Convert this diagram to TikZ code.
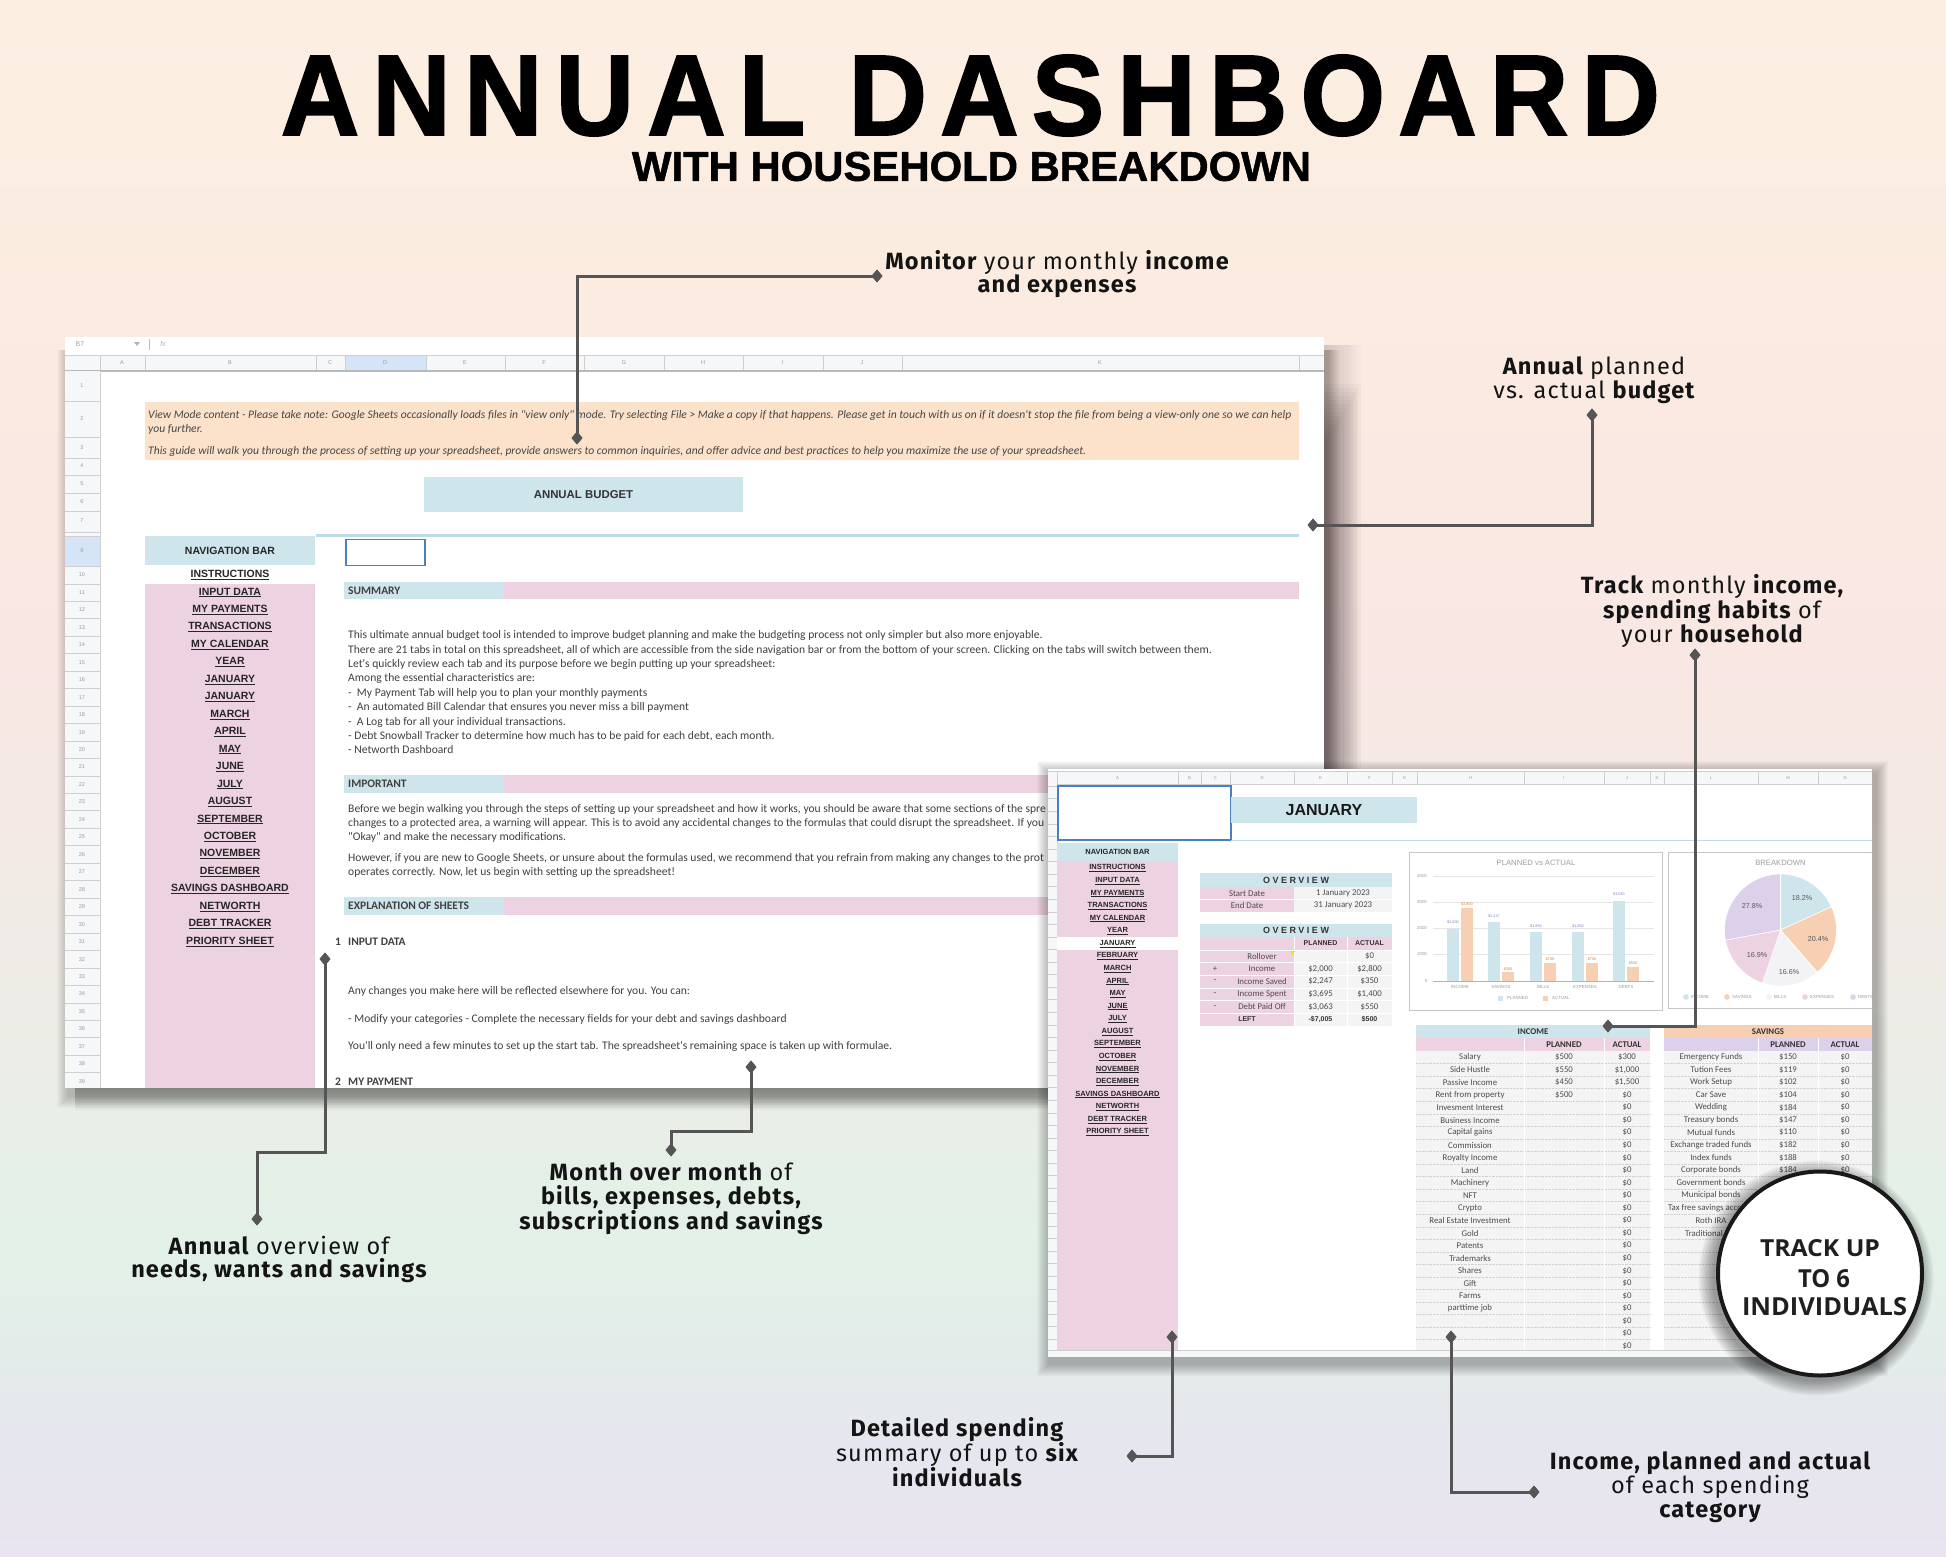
\documentclass[tikz,border=0pt]{standalone}
\usepackage{fontspec}
\usepackage{graphicx}
\usetikzlibrary{shapes.geometric}
\setmainfont{Fira Sans}
\newfontfamily\titlefont[LetterSpace=12,FakeBold=1.6]{Liberation Sans}
\newfontfamily\subfont[FakeBold=1.2]{Liberation Sans}
\newfontfamily\callfont[LetterSpace=5]{Fira Sans}
\newfontfamily\calfont{Carlito}
\newfontfamily\ari{Liberation Sans}
\newfontfamily\arisp[LetterSpace=28]{Liberation Sans}
\newfontfamily\circfont{Open Sans}

\definecolor{bg1}{HTML}{FCEFE2}
\definecolor{bg2}{HTML}{FBEBE0}
\definecolor{bg3}{HTML}{F9E7E4}
\definecolor{bg4}{HTML}{EEECE6}
\definecolor{bg5}{HTML}{E2F1E7}
\definecolor{bg6}{HTML}{E6E6EE}
\definecolor{bg7}{HTML}{E9E4EF}
\definecolor{cgray}{HTML}{555555}
\definecolor{lblue}{HTML}{CFE5EC}
\definecolor{lineblue}{HTML}{BCDCE8}
\definecolor{lpink}{HTML}{EDD2E1}
\definecolor{lpeach}{HTML}{FCE2CB}
\definecolor{speach}{HTML}{F7D0B3}
\definecolor{llav}{HTML}{DDD0EA}
\definecolor{hdrgray}{HTML}{F6F7F8}
\definecolor{gridg}{HTML}{CFCFCF}
\definecolor{selblue}{HTML}{4A7FC1}
\definecolor{hilite}{HTML}{D6E4F7}
\definecolor{txt}{HTML}{404040}
\definecolor{cellg}{HTML}{F4F4F4}
\definecolor{pieW}{HTML}{F3F3F5}
\definecolor{shad}{HTML}{3A2A2E}

\tikzset{
  callout/.style={font=\callfont\fontsize{23.5}{23.5}\selectfont, align=center, text=black!92, inner sep=0pt},
  dia/.style={diamond, fill=cgray, minimum width=11pt, minimum height=13pt, inner sep=0pt},
  conn/.style={draw=cgray, line width=3pt},
  rowlab/.style={font=\ari\fontsize{5.5}{6}\selectfont, text=gray!80, inner sep=0pt},
  colhdr/.style={font=\ari\fontsize{5.5}{6}\selectfont, text=gray!80, inner sep=0pt},
  navL/.style={font=\ari\bfseries\fontsize{10.5}{11}\selectfont, text=black!85, inner sep=0pt},
  navR/.style={font=\ari\bfseries\fontsize{7.5}{8}\selectfont, text=black!85, inner sep=0pt},
  bodyL/.style={font=\calfont\fontsize{11.6}{12}\selectfont, text=txt, anchor=west, inner sep=0pt},
  bannert/.style={font=\calfont\itshape\fontsize{11.6}{12}\selectfont, text=black!72, anchor=west, inner sep=0pt},
  secL/.style={font=\calfont\bfseries\fontsize{11.5}{12}\selectfont, text=black!75, anchor=west, inner sep=0pt},
  cellt/.style={font=\calfont\fontsize{8.8}{9}\selectfont, text=black!70, inner sep=0pt},
  cellb/.style={font=\calfont\bfseries\fontsize{8.8}{9}\selectfont, text=black!80, inner sep=0pt},
  ovt/.style={font=\calfont\fontsize{8.8}{9}\selectfont, text=black!70, inner sep=0pt},
  ovb/.style={font=\ari\bfseries\fontsize{7}{8}\selectfont, text=black!80, inner sep=0pt},
  ovh/.style={font=\arisp\bfseries\fontsize{9}{9}\selectfont, text=black!80, inner sep=0pt},
  axl/.style={font=\ari\fontsize{4.4}{5}\selectfont, text=gray!80, inner sep=0pt},
  valb/.style={font=\ari\fontsize{3.8}{4}\selectfont, text=lblue!60!blue!50!gray, inner sep=0pt},
  vala/.style={font=\ari\fontsize{3.8}{4}\selectfont, text=orange!50!brown, inner sep=0pt},
  charttitle/.style={font=\ari\fontsize{7.7}{8}\selectfont, text=gray!75, inner sep=0pt},
  piel/.style={font=\ari\fontsize{7.2}{8}\selectfont, text=black!65, inner sep=0pt},
}

\begin{document}
\begin{tikzpicture}[x=1pt,y=-1pt]
\useasboundingbox (0,0) rectangle (1946,1557);
% ---------- background
\shade[top color=bg1,bottom color=bg2] (0,-1) rectangle (1946,301);
\shade[top color=bg2,bottom color=bg3] (0,300) rectangle (1946,651);
\shade[top color=bg3,bottom color=bg4] (0,650) rectangle (1946,1001);
\shade[top color=bg4,bottom color=bg5] (0,1000) rectangle (1946,1251);
\shade[top color=bg5,bottom color=bg6] (0,1250) rectangle (1946,1451);
\shade[top color=bg6,bottom color=bg7] (0,1450) rectangle (1946,1558);

% ---------- title
\node[inner sep=0pt] (title) at (970.5,95.5) {\resizebox{1379pt}{80pt}{\titlefont\bfseries ANNUAL DASHBOARD}};
\node[inner sep=0pt] (subtitle) at (971.5,166.5) {\resizebox{679pt}{29pt}{\subfont\bfseries WITH HOUSEHOLD BREAKDOWN}};

% ---------- left screenshot
\foreach \i in {1,...,12}{\fill[black,opacity=0.018] ({69-\i},350) rectangle ({1328+\i},{1096+\i});}
\foreach \i in {0,...,14}{\fill[shad,opacity=0.012] (1324,345) rectangle ({1327+\i*2.4},1094);}
\foreach \i in {0,...,14}{\fill[shad,opacity=0.03] (1324,{440-\i*4}) rectangle ({1327+\i*2.4},1094);}
\foreach \i in {0,...,8}{\fill[black,opacity=0.03] (75,1088) rectangle (1330,{1090+\i*2.5});}
\fill[white] (65,337) rectangle (1324,1088);
\begin{scope}
\clip (65,337) rectangle (1324,1088);
% toolbar
\node[font=\ari\fontsize{7}{7}\selectfont, text=gray!70] (tbB) at (80,344) {B7};
\fill[gray!60] (134,342) -- (140,342) -- (137,346) -- cycle;
\draw[gray!50] (149,339) -- (149,350);
\node[font=\ari\itshape\fontsize{7}{7}\selectfont, text=gray!60] (tbF) at (163,344) {fx};
% column header
\fill[hdrgray] (65,355) rectangle (1324,371);
\fill[hilite] (345,355) rectangle (426,371);
\foreach \x in {100,145,316,345,426,505,584,664,743,823,902,1299}{\draw[gridg,line width=0.6] (\x,355) -- (\x,371);}
\draw[gridg,line width=0.6] (65,355) -- (1324,355);
\draw[gray!55,line width=1.2] (65,371) -- (1324,371);
\foreach \a/\x in {A/122,B/230,C/330,D/385,E/465,F/544,G/624,H/703,I/783,J/862,K/1100}{\node[colhdr] at (\x,363) {\a};}
% row header
\fill[hdrgray] (65,371) rectangle (100,1088);
\fill[hilite] (65,536) rectangle (100,566);
\draw[gridg,line width=0.6] (100,371) -- (100,1088);
\foreach \y in {401,437,458,475,493,511,532,536,566.3}{\draw[gridg,line width=0.5] (65,\y) -- (100,\y);}
\foreach \k in {10,...,39}{\draw[gridg,line width=0.5] (65,{566.3+(\k-9)*17.46}) -- (100,{566.3+(\k-9)*17.46});}
\foreach \k/\y in {1/386,2/419,3/448,4/466,5/484,6/502,7/521,9/551}{\node[rowlab] at (82,\y) {\k};}
\foreach \k in {10,...,39}{\node[rowlab] at (82,{575+(\k-10)*17.46}) {\k};}
% banner
\fill[lpeach] (145,402) rectangle (1299,460);
\node[bannert] (ban1) at (148,415) {View Mode content - Please take note: Google Sheets occasionally loads files in "view only" mode. Try selecting File > Make a copy if that happens. Please get in touch with us on if it doesn't stop the file from being a view-only one so we can help};
\node[bannert] (ban2) at (148,429) {you further.};
\node[bannert] (ban3) at (148,451) {This guide will walk you through the process of setting up your spreadsheet, provide answers to common inquiries, and offer advice and best practices to help you maximize the use of your spreadsheet.};
% annual budget box
\node[fill=lblue, minimum width=319pt, minimum height=35pt, inner sep=0pt, font=\ari\bfseries\fontsize{11.4}{12}\selectfont, text=black!80] (abox) at (583.5,494.5) {ANNUAL BUDGET};
\draw[lineblue, line width=3] (316,535) -- (1299,535);
\draw[selblue, line width=1.3] (346,539.5) rectangle (425,565.5);
% navigation
\fill[lblue] (145,536) rectangle (315,565);
\node[navL] (navtitleL) at (230,551) {NAVIGATION BAR};
\fill[lpink] (145,583.8) rectangle (315,1088);
\foreach \t [count=\i from 0] in {INSTRUCTIONS,INPUT DATA,MY PAYMENTS,TRANSACTIONS,MY CALENDAR,YEAR,JANUARY,JANUARY,MARCH,APRIL,MAY,JUNE,JULY,AUGUST,SEPTEMBER,OCTOBER,NOVEMBER,DECEMBER,SAVINGS DASHBOARD,NETWORTH,DEBT TRACKER,PRIORITY SHEET}{\node[navL] at (230,{575+\i*17.46}) {\underline{\t}};}
% sections
\fill[lblue] (344,582) rectangle (504,599); \fill[lpink] (504,582) rectangle (1299,599);
\node[secL] (sumh) at (348,591) {SUMMARY};
\node[bodyL] at (348,635) {This ultimate annual budget tool is intended to improve budget planning and make the budgeting process not only simpler but also more enjoyable.};
\node[bodyL] at (348,650) {There are 21 tabs in total on this spreadsheet, all of which are accessible from the side navigation bar or from the bottom of your screen. Clicking on the tabs will switch between them.};
\node[bodyL] at (348,664) {Let's quickly review each tab and its purpose before we begin putting up your spreadsheet:};
\node[bodyL] at (348,678) {Among the essential characteristics are:};
\node[bodyL] at (348,693) {-\ \ My Payment Tab will help you to plan your monthly payments};
\node[bodyL] at (348,707) {-\ \ An automated Bill Calendar that ensures you never miss a bill payment};
\node[bodyL] at (348,722) {-\ \ A Log tab for all your individual transactions.};
\node[bodyL] at (348,736) {- Debt Snowball Tracker to determine how much has to be paid for each debt, each month.};
\node[bodyL] at (348,750) {- Networth Dashboard};
\fill[lblue] (344,775) rectangle (504,793); \fill[lpink] (504,775) rectangle (1299,793);
\node[secL] (imph) at (348,784) {IMPORTANT};
\node[bodyL] at (348,809) {Before we begin walking you through the steps of setting up your spreadsheet and how it works, you should be aware that some sections of the spre};
\node[bodyL] at (348,823) {changes to a protected area, a warning will appear. This is to avoid any accidental changes to the formulas that could disrupt the spreadsheet. If you};
\node[bodyL] at (348,837) {"Okay" and make the necessary modifications.};
\node[bodyL] at (348,858) {However, if you are new to Google Sheets, or unsure about the formulas used, we recommend that you refrain from making any changes to the prot};
\node[bodyL] at (348,872) {operates correctly. Now, let us begin with setting up the spreadsheet!};
\fill[lblue] (344,897) rectangle (504,915); \fill[lpink] (504,897) rectangle (1299,915);
\node[secL] (exph) at (348,906) {EXPLANATION OF SHEETS};
\node[secL] at (335,942) {1};
\node[secL] at (348,942) {INPUT DATA};
\node[bodyL] at (348,991) {Any changes you make here will be reflected elsewhere for you. You can:};
\node[bodyL] at (348,1019) {- Modify your categories - Complete the necessary fields for your debt and savings dashboard};
\node[bodyL] at (348,1046) {You'll only need a few minutes to set up the start tab. The spreadsheet's remaining space is taken up with formulae.};
\node[secL] at (335,1082) {2};
\node[secL] at (348,1082) {MY PAYMENT};
\end{scope}

% ---------- right screenshot
\foreach \i in {1,...,12}{\fill[black,opacity=0.022] ({1049-\i},{773-\i}) rectangle ({1876+\i},{1364+\i});}
\fill[white] (1048,769) rectangle (1872,1357);
\begin{scope}
\clip (1048,769) rectangle (1872,1357);
\fill[hdrgray] (1048,771) rectangle (1872,784);
\foreach \x in {1057,1178,1201,1230,1294,1347,1392,1417,1524,1604,1650,1664,1758,1818}{\draw[gridg,line width=0.4] (\x,771) -- (\x,784);}
\draw[gridg,line width=0.6] (1048,784) -- (1872,784);
\draw[gridg,line width=0.4] (1048,771) -- (1872,771);
\foreach \a/\x in {A/1117.5,B/1189.5,C/1215.5,D/1262,E/1320.5,F/1369.5,G/1404.5,H/1470.5,I/1564,J/1627,K/1657,L/1711,M/1788,N/1845}{\node[font=\ari\fontsize{4.2}{5}\selectfont, text=gray!80, inner sep=0pt] at (\x,778) {\a};}
\fill[hdrgray] (1048,784) rectangle (1057,1357);
\foreach \i in {0,...,45}{\draw[gridg,line width=0.4] (1048,{786+\i*12.57}) -- (1057,{786+\i*12.57});}
\draw[gridg,line width=0.5] (1057,784) -- (1057,1357);
% selected cell and title
\draw[selblue, line width=1.1] (1058,786) rectangle (1231,840);
\node[fill=lblue, minimum width=186pt, minimum height=26pt, inner sep=0pt, font=\ari\bfseries\fontsize{16}{16}\selectfont, text=black!90] (jan) at (1324,810) {JANUARY};
\draw[lineblue, line width=1.8] (1231,840.5) -- (1872,840.5);
% nav
\fill[lblue] (1057,843) rectangle (1178,861);
\node[navR] (navtitleR) at (1117.5,852) {NAVIGATION BAR};
\fill[lpink] (1057,861) rectangle (1178,1350);
\fill[white] (1057,937.4) rectangle (1178,950);
\foreach \t [count=\i from 0] in {INSTRUCTIONS,INPUT DATA,MY PAYMENTS,TRANSACTIONS,MY CALENDAR,YEAR,JANUARY,FEBRUARY,MARCH,APRIL,MAY,JUNE,JULY,AUGUST,SEPTEMBER,OCTOBER,NOVEMBER,DECEMBER,SAVINGS DASHBOARD,NETWORTH,DEBT TRACKER,PRIORITY SHEET}{\node[navR] at (1117.5,{868.3+\i*12.57}) {\underline{\t}};}
% overview 1
\fill[lblue] (1200,873) rectangle (1392,887);
\node[ovh] (ov1) at (1296,880) {OVERVIEW};
\fill[lpink] (1200,887) rectangle (1294,912);
\fill[cellg] (1294,887) rectangle (1392,912);
\draw[white,line width=0.6] (1200,899.5) -- (1392,899.5);
\node[ovt] at (1247,893.2) {Start Date};
\node[ovt] at (1343,893.2) {1 January 2023};
\node[ovt] at (1247,905.8) {End Date};
\node[ovt] at (1343,905.8) {31 January 2023};
% overview 2
\fill[lblue] (1200,924) rectangle (1392,937);
\node[ovh] (ov2) at (1296,930.5) {OVERVIEW};
\fill[lpink] (1200,937) rectangle (1392,950);
\fill[lpink] (1200,950) rectangle (1294,1025.6);
\fill[cellg] (1294,950) rectangle (1392,1025.6);
\foreach \i in {0,...,5}{\draw[white,line width=0.6] (1200,{950+\i*12.6}) -- (1392,{950+\i*12.6});}
\draw[white,line width=0.6] (1347,937) -- (1347,1025.6);
\draw[white,line width=0.6] (1294,937) -- (1294,1025.6);
\node[ovb] at (1320.5,943.5) {PLANNED};
\node[ovb] at (1369.5,943.5) {ACTUAL};
\foreach \s/\l/\p/\a [count=\i from 0] in {{}/Rollover/{}/\$0, +/Income/{\$2,000}/{\$2,800}, -/Income Saved/{\$2,247}/\$350, -/Income Spent/{\$3,695}/{\$1,400}, -/Debt Paid Off/{\$3,063}/\$550}{
  \node[ovt] at (1215,{956.3+\i*12.6}) {\s};
  \node[ovt] at (1262,{956.3+\i*12.6}) {\l};
  \node[ovt] at (1320.5,{956.3+\i*12.6}) {\p};
  \node[ovt] at (1369.5,{956.3+\i*12.6}) {\a};
}
\fill[yellow!80!orange] (1290,951) -- (1295,951) -- (1292.5,955) -- cycle;
\node[ovb] at (1247,1019.3) {LEFT};
\node[ovb] at (1320.5,1019.3) {-\$7,005};
\node[ovb] at (1369.5,1019.3) {\$500};
% chart 1
\draw[gray!45, line width=0.8] (1409,852) rectangle (1662,1010);
\node[charttitle] (ct1) at (1536,863) {PLANNED vs ACTUAL};
\foreach \v/\y in {4000/876,3000/902,2000/928,1000/954}{\draw[gray!20,line width=0.5] (1433,\y) -- (1654,\y); \node[axl] at (1422,\y) {\v};}
\node[axl] at (1426,981) {0};
\foreach \c/\p/\a/\n/\pl/\al in {1460/2000/2800/INCOME/{\$2,000}/{\$2,800}, 1501/2247/350/SAVINGS/{\$2,247}/\$350, 1543/1850/700/BILLS/{\$1,850}/\$700, 1585/1850/700/EXPENSES/{\$1,850}/\$700, 1626/3063/550/DEBTS/{\$3,063}/\$550}{
  \fill[lblue] ({\c-13},981) rectangle ({\c-1},{981-\p*0.02625});
  \fill[speach] ({\c+1},981) rectangle ({\c+13},{981-\a*0.02625});
  \node[valb] at ({\c-7},{975-\p*0.02625}) {\pl};
  \node[vala] at ({\c+7},{978-\a*0.02625}) {\al};
  \node[axl] at (\c,987) {\n};
}
\draw[gray!60,line width=0.6] (1433,981) -- (1654,981);
\fill[lblue] (1498,995.5) rectangle (1503,1000.5);
\node[axl, anchor=west] at (1507,998) {PLANNED};
\fill[speach] (1543,995.5) rectangle (1548,1000.5);
\node[axl, anchor=west] at (1552,998) {ACTUAL};
% chart 2
\draw[gray!45, line width=0.8] (1668,852) rectangle (1885,1008);
\node[charttitle] (ct2) at (1780.5,863) {BREAKDOWN};
\begin{scope}[shift={(1780.5,930)}, yscale=-1]
  \fill[lblue, draw=white, line width=0.6] (0,0) -- (90:56) arc[start angle=90, end angle=24.5, radius=56] -- cycle;
  \fill[speach, draw=white, line width=0.6] (0,0) -- (24.5:56) arc[start angle=24.5, end angle=-49, radius=56] -- cycle;
  \fill[pieW, draw=white, line width=0.6] (0,0) -- (-49:56) arc[start angle=-49, end angle=-108.8, radius=56] -- cycle;
  \fill[lpink, draw=white, line width=0.6] (0,0) -- (-108.8:56) arc[start angle=-108.8, end angle=-169.6, radius=56] -- cycle;
  \fill[llav, draw=white, line width=0.6] (0,0) -- (-169.6:56) arc[start angle=-169.6, end angle=-270, radius=56] -- cycle;
\end{scope}
\node[piel] at (1802,898) {18.2\%};
\node[piel] at (1818,939) {20.4\%};
\node[piel] at (1789,972) {16.6\%};
\node[piel] at (1757,955) {16.9\%};
\node[piel] at (1752,906) {27.8\%};
\foreach \x/\c/\n in {1686/lblue/INCOME, 1727/speach/SAVINGS, 1769/pieW/BILLS, 1805/lpink/EXPENSES, 1853/llav/DEBTS}{
  \fill[\c] (\x,997) circle (2.8);
  \node[axl, anchor=west] at ({\x+5},997) {\n};
}
% income table
\fill[lblue] (1416,1025) rectangle (1650,1038);
\node[cellb] (inch) at (1533,1031.5) {INCOME};
\fill[lpink] (1416,1038) rectangle (1650,1051);
\node[cellb] at (1564,1044.5) {PLANNED};
\node[cellb] at (1627,1044.5) {ACTUAL};
\fill[cellg] (1416,1051) rectangle (1650,1352);
\foreach \i in {1,...,23}{\draw[gray!35, densely dotted, line width=0.4] (1416,{1051+\i*12.55}) -- (1650,{1051+\i*12.55});}
\draw[white, line width=0.8] (1524,1038) -- (1524,1352);
\draw[white, line width=0.8] (1604,1038) -- (1604,1352);
\foreach \l/\p/\a [count=\i from 0] in {Salary/\$500/\$300, Side Hustle/\$550/{\$1,000}, Passive Income/\$450/{\$1,500}, Rent from property/\$500/\$0, Invesment Interest/{}/\$0, Business Income/{}/\$0, Capital gains/{}/\$0, Commission/{}/\$0, Royalty Income/{}/\$0, Land/{}/\$0, Machinery/{}/\$0, NFT/{}/\$0, Crypto/{}/\$0, Real Estate Investment/{}/\$0, Gold/{}/\$0, Patents/{}/\$0, Trademarks/{}/\$0, Shares/{}/\$0, Gift/{}/\$0, Farms/{}/\$0, parttime job/{}/\$0, {}/{}/\$0, {}/{}/\$0, {}/{}/\$0}{
  \node[cellt] at (1470,{1057.3+\i*12.55}) {\l};
  \node[cellt] at (1564,{1057.3+\i*12.55}) {\p};
  \node[cellt] at (1627,{1057.3+\i*12.55}) {\a};
}
% savings table
\fill[speach] (1664,1025) rectangle (1872,1038);
\node[cellb] (savh) at (1768,1031.5) {SAVINGS};
\fill[llav] (1664,1038) rectangle (1872,1051);
\node[cellb] at (1788,1044.5) {PLANNED};
\node[cellb] at (1845,1044.5) {ACTUAL};
\fill[cellg] (1664,1051) rectangle (1872,1352);
\foreach \i in {1,...,23}{\draw[gray!35, densely dotted, line width=0.4] (1664,{1051+\i*12.55}) -- (1872,{1051+\i*12.55});}
\draw[white, line width=0.8] (1758,1038) -- (1758,1352);
\draw[white, line width=0.8] (1818,1038) -- (1818,1352);
\foreach \l/\p/\a [count=\i from 0] in {Emergency Funds/\$150/\$0, Tution Fees/\$119/\$0, Work Setup/\$102/\$0, Car Save/\$104/\$0, Wedding/\$184/\$0, Treasury bonds/\$147/\$0, Mutual funds/\$110/\$0, Exchange traded funds/\$182/\$0, Index funds/\$188/\$0, Corporate bonds/\$184/\$0, Government bonds/{}/{}, Municipal bonds/{}/{}, Tax free savings account/{}/{}, Roth IRA/{}/{}, Traditional IRA/{}/{}}{
  \node[cellt] at (1711,{1057.3+\i*12.55}) {\l};
  \node[cellt] at (1788,{1057.3+\i*12.55}) {\p};
  \node[cellt] at (1845,{1057.3+\i*12.55}) {\a};
}
\fill[hdrgray] (1048,1350) rectangle (1872,1357);
\draw[gridg,line width=0.6] (1048,1350) -- (1872,1350);
\end{scope}

% ---------- circle
\foreach \i in {1,...,12}{\fill[black,opacity=0.035] (1816,1278) circle ({102+\i*1.3});}
\node[circle, fill=white, draw=black!90, line width=4pt, minimum size=204pt, inner sep=0pt] (badge) at (1820,1273.5) {};
\node[inner sep=0pt, font=\circfont\bfseries, text=black!88] (b1) at (1820,1248.5) {\resizebox{120pt}{17pt}{TRACK UP}};
\node[inner sep=0pt, font=\circfont\bfseries, text=black!88] (b2) at (1824,1278.5) {\resizebox{52pt}{18pt}{TO 6}};
\node[inner sep=0pt, font=\circfont\bfseries, text=black!88] (b3) at (1824.5,1306.5) {\resizebox{165pt}{18pt}{INDIVIDUALS}};

% ---------- callouts
\node[callout] (t1) at (1057,274) {{\bfseries Monitor} your monthly {\bfseries income}\\{\bfseries and expenses}};
\node[callout] (t2) at (1594,380) {{\bfseries Annual} planned\\vs. actual {\bfseries budget}};
\node[callout] (t3) at (1712,611) {{\bfseries Track} monthly {\bfseries income,}\\{\bfseries spending habits} of\\your {\bfseries household}};
\node[callout] (t4) at (279,1259.5) {{\bfseries Annual} overview of\\{\bfseries needs, wants and savings}};
\node[callout] (t5) at (671,1199) {{\bfseries Month over month} of\\{\bfseries bills, expenses, debts,}\\{\bfseries subscriptions and savings}};
\node[callout] (t6) at (957,1452) {{\bfseries Detailed spending}\\summary of up to {\bfseries six}\\{\bfseries individuals}};
\node[callout] (t7) at (1710,1487) {{\bfseries Income, planned and actual}\\of each spending\\{\bfseries category}};

\node[dia] (d1a) at (877,276) {}; \node[dia] (d1b) at (577,438) {};
\node[dia] (d2a) at (1592,415) {}; \node[dia] (d2b) at (1313,525) {};
\node[dia] (d3a) at (1695,655) {}; \node[dia] (d3b) at (1608,1026) {};
\node[dia] (d4a) at (325,959) {}; \node[dia] (d4b) at (257,1219) {};
\node[dia] (d5a) at (751,1067) {}; \node[dia] (d5b) at (671,1150) {};
\node[dia] (d6a) at (1132,1456) {}; \node[dia] (d6b) at (1172,1337) {};
\node[dia] (d7a) at (1534,1492) {}; \node[dia] (d7b) at (1451,1337) {};
\coordinate (k4) at (325,1152);
\coordinate (k5) at (751,1131);
\draw[conn] (d1a.center) -| (d1b.center);
\draw[conn] (d2a.center) |- (d2b.center);
\draw[conn] (d3a.center) |- (d3b.center);
\draw[conn] (d4a.center) -- (k4) -| (d4b.center);
\draw[conn] (d5a.center) -- (k5) -| (d5b.center);
\draw[conn] (d6a.center) -| (d6b.center);
\draw[conn] (d7a.center) -| (d7b.center);
\foreach \d in {d1a,d1b,d2a,d2b,d3a,d3b,d4a,d4b,d5a,d5b,d6a,d6b,d7a,d7b}{\node[dia] at (\d) {};}
\end{tikzpicture}
\end{document}
